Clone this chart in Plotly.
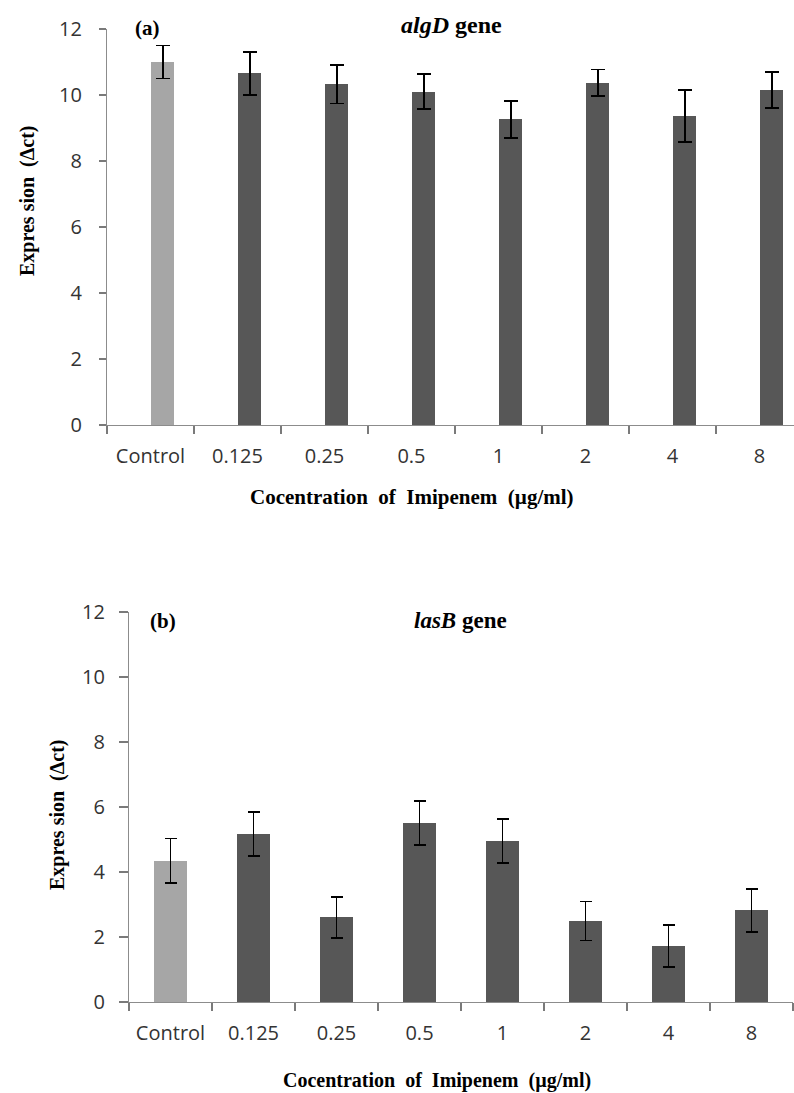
import plotly.graph_objects as go

categories = ["Control", "0.125", "0.25", "0.5", "1", "2", "4", "8"]
algD_values = [11.0, 10.66, 10.32, 10.10, 9.26, 10.37, 9.37, 10.15]
algD_errors = [0.50, 0.65, 0.58, 0.53, 0.56, 0.40, 0.79, 0.54]
lasB_values = [4.35, 5.17, 2.61, 5.50, 4.95, 2.49, 1.73, 2.82]
lasB_errors = [0.68, 0.68, 0.63, 0.68, 0.68, 0.60, 0.65, 0.66]
y_ticks = [0, 2, 4, 6, 8, 10, 12]

W, H = 794, 1093
LIGHT = "#a6a6a6"
DARK = "#575757"
colors = [LIGHT] + [DARK] * (len(categories) - 1)

def px(x):
    return x / W

def py(y):
    return 1 - y / H

fig = go.Figure()

fig.add_trace(go.Bar(
    x=categories, y=algD_values,
    marker=dict(color=colors, line=dict(width=0)),
    width=0.265, offset=0.01,
    error_y=dict(type="data", array=algD_errors, color="black", thickness=1.8, width=7),
    xaxis="x", yaxis="y", showlegend=False, hoverinfo="skip",
))
fig.add_trace(go.Bar(
    x=categories, y=lasB_values,
    marker=dict(color=colors, line=dict(width=0)),
    width=0.39,
    error_y=dict(type="data", array=lasB_errors, color="black", thickness=1.8, width=6),
    xaxis="x2", yaxis="y2", showlegend=False, hoverinfo="skip",
))

tickfont = dict(family="Open Sans", size=20, color="#333333")
axis_common = dict(showgrid=False, zeroline=False, showline=True, linecolor="#8c8c8c",
                   linewidth=1.3, ticks="outside", tickcolor="#7a7a7a", tickwidth=1.5,
                   tickfont=tickfont, automargin=False)

fig.update_layout(
    width=W, height=H, margin=dict(l=0, r=0, t=0, b=0, pad=0, autoexpand=False),
    plot_bgcolor="white", paper_bgcolor="white",
    bargap=0,
    xaxis=dict(domain=[px(107), 1.0], type="category", range=[-0.5, 7.5 - 9 / 87.5], anchor="y",
               tickson="boundaries", ticklen=8, ticklabelstandoff=13, **axis_common),
    yaxis=dict(domain=[py(425), py(29)], range=[0, 12], anchor="x",
               tickmode="array", tickvals=y_ticks, ticklen=7, ticklabelstandoff=13,
               **axis_common),
    xaxis2=dict(domain=[px(129), px(793)], type="category", range=[-0.5, 7.5], anchor="y2",
                tickson="boundaries", ticklen=8, ticklabelstandoff=13, **axis_common),
    yaxis2=dict(domain=[py(1002), py(612)], range=[0, 12], anchor="x2",
                tickmode="array", tickvals=y_ticks, ticklen=9, ticklabelstandoff=10,
                **axis_common),
)

serif = "Liberation Serif"
ann = [
    dict(text="<b>(a)</b>", x=px(147), y=py(28), size=21),
    dict(text="<b>(b)</b>", x=px(163), y=py(621), size=21),
    dict(text="<b><i>algD</i> gene</b>", x=px(452), y=py(25), size=24),
    dict(text="<b><i>lasB</i> gene</b>", x=px(460), y=py(620), size=23),
    dict(text="<b>Cocentration  of  Imipenem  (µg/ml)</b>", x=px(412), y=py(497), size=21),
    dict(text="<b>Cocentration  of  Imipenem  (µg/ml)</b>", x=px(437), y=py(1080), size=20),
]
for a in ann:
    fig.add_annotation(text=a["text"], x=a["x"], y=a["y"], xref="paper", yref="paper",
                       xanchor="center", yanchor="middle", showarrow=False,
                       font=dict(family=serif, size=a["size"], color="black"))

for (xc, yc) in [(27, 201), (57, 815)]:
    fig.add_annotation(text="<b>Expres sion  (Δct)</b>", x=px(xc), y=py(yc), xref="paper", yref="paper",
                       xanchor="center", yanchor="middle", showarrow=False, textangle=-90,
                       font=dict(family=serif, size=20, color="black"))

fig.write_html(
    "out.html",
    config={"displayModeBar": False},
    post_script="document.body.style.margin='0';document.body.style.padding='0';"
                "document.documentElement.style.overflow='hidden';",
)
